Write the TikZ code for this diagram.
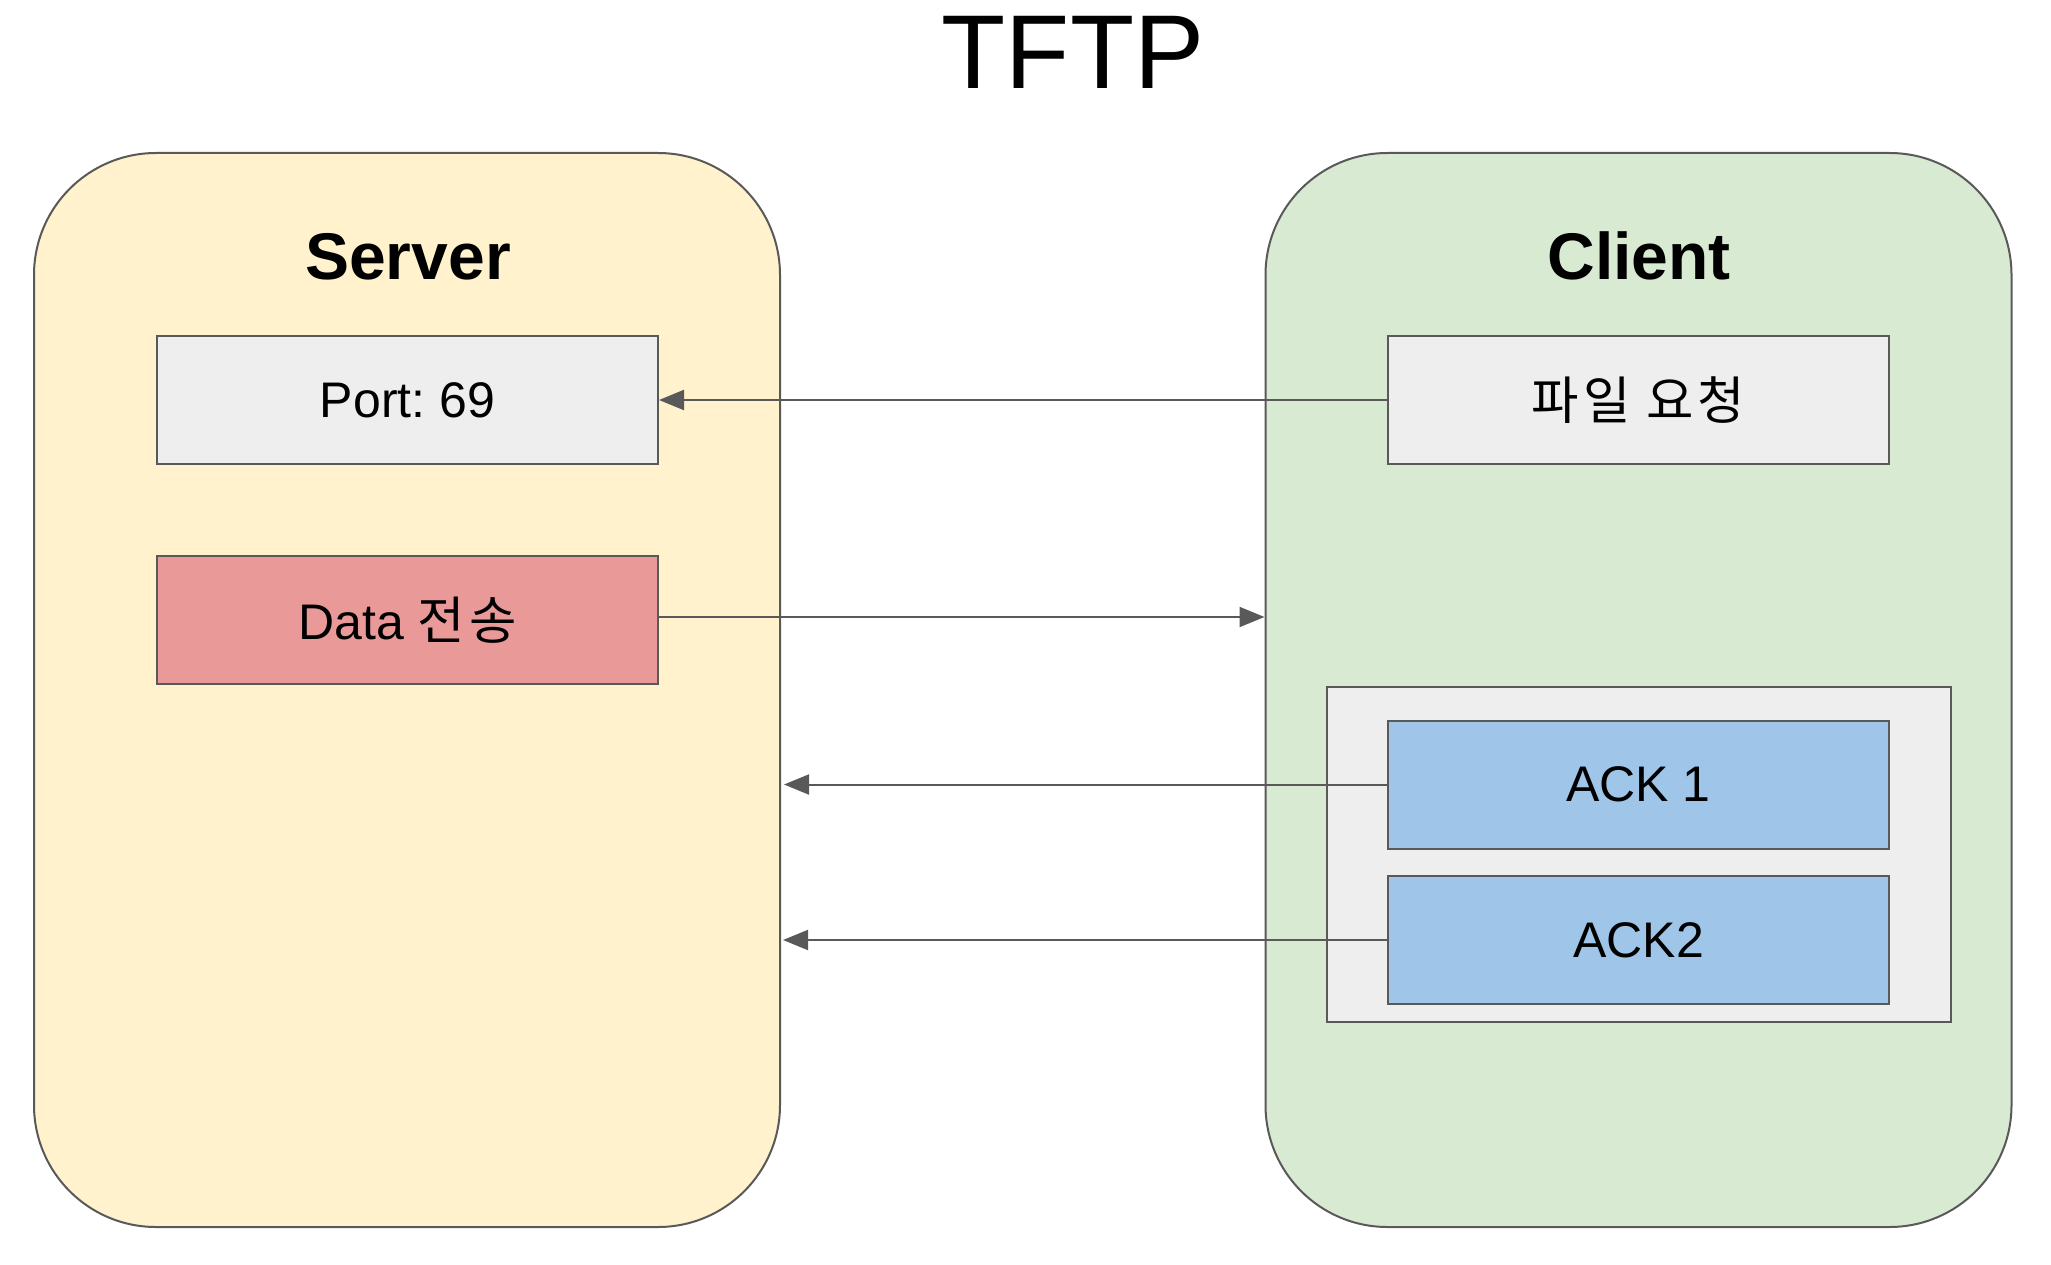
\documentclass[tikz,border=0pt]{standalone}
\usepackage{fontspec}
\setmainfont{Liberation Sans}
\newfontfamily\kr[Scale=1.03,LetterSpace=8]{Noto Sans CJK KR}
\usetikzlibrary{arrows.meta}
\definecolor{edge}{HTML}{595959}
\definecolor{srvfill}{HTML}{FFF2CC}
\definecolor{clifill}{HTML}{D9EAD3}
\definecolor{grayfill}{HTML}{EEEEEE}
\definecolor{redfill}{HTML}{EA9999}
\definecolor{bluefill}{HTML}{9FC5E8}
\tikzset{
  panel/.style={draw=edge, line width=2pt, rounded corners=122pt, minimum width=746pt, minimum height=1074pt, inner sep=0pt},
  boxnode/.style={draw=edge, line width=2pt, minimum width=501pt, minimum height=128pt, inner sep=0pt, font=\fontsize{50}{60}\selectfont},
  heading/.style={font=\fontsize{66}{78}\selectfont\bfseries, anchor=base},
  conn/.style={draw=edge, line width=2pt, -{Triangle[length=25pt,width=20pt]}},
}
\frenchspacing
\begin{document}
\begin{tikzpicture}[x=1pt,y=-1pt]
\useasboundingbox (0,0) rectangle (2051,1265);
% title
\node[font=\fontsize{105}{120}\selectfont, anchor=base] (title) at (1073,89) {TFTP};
% panels
\node[panel, fill=srvfill] (server) at (407,690) {};
\node[panel, fill=clifill] (client) at (1638.5,690) {};
\node[heading] (serverlbl) at (408,280) {Server};
\node[heading] (clientlbl) at (1639,280) {Client};
% server boxes
\node[boxnode, fill=grayfill] (port) at (407.5,400) {Port: 69};
\node[boxnode, fill=redfill] (data) at (407.5,620) {Data {\kr 전송}};
% client boxes
\node[boxnode, fill=grayfill] (req) at (1638.5,400) {\kr 파일 요청};
\node[draw=edge, line width=2pt, fill=grayfill, minimum width=624pt, minimum height=335pt, inner sep=0pt] (acks) at (1639,854.5) {};
\node[boxnode, fill=bluefill] (ack1) at (1638.5,784.5) {ACK 1};
\node[boxnode, fill=bluefill] (ack2) at (1638.5,940) {ACK2};
% free ends
\coordinate (ack1end) at (784,784.5);
\coordinate (ack2end) at (783,940);
% connectors
\draw[conn] (req.west) -- (port.east);
\draw[conn] ([yshift=3pt]data.east) -- ([yshift=3pt]data.east -| client.west);
\draw[conn] (ack1.west) -- (ack1end);
\draw[conn] (ack2.west) -- (ack2end);
\end{tikzpicture}
\end{document}
